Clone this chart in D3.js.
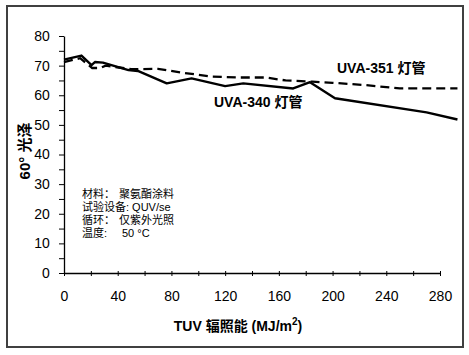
<!DOCTYPE html>
<html><head><meta charset="utf-8">
<script src="https://cdn.jsdelivr.net/npm/d3@7"></script>
<style>
body{margin:0;background:#fff;}
svg{display:block;font-family:"Liberation Sans",Arial,"Noto Sans CJK SC",sans-serif;}
</style></head><body>
<svg id="c" width="469" height="355"></svg>
<script>
// UVA-340 灯管 (solid)
const uva340X = [0, 13, 20.5, 23, 29, 48, 55, 76.5, 95, 120, 133.5, 170.7, 183.2, 201.8, 270, 293];
const uva340Y = [72, 73.4, 70.2, 71.2, 71, 68.5, 68.2, 64.0, 65.7, 63.1, 64.0, 62.3, 64.4, 59.0, 54.2, 51.8];
// UVA-351 灯管 (dashed)
const uva351X = [0, 12, 21, 27, 31, 50, 70, 90, 110, 130, 150, 165, 185, 200, 225, 250, 293];
const uva351Y = [71.2, 72.5, 69.2, 69.2, 70, 68.8, 68.9, 67.5, 66.3, 66, 66, 65, 64.6, 64.2, 63.4, 62.3, 62.3];
const xTickLabels = [0, 40, 80, 120, 160, 200, 240, 280];
const yTickLabels = [0, 10, 20, 30, 40, 50, 60, 70, 80];
const noteLines = [["材料：", "聚氨酯涂料"], ["试验设备: QUV/se", ""], ["循环：", "仅紫外光照"], ["温度:", "50 °C"]];

const svg = d3.select("#c");
svg.append("rect").attr("x", 7).attr("y", 6).attr("width", 456).attr("height", 341)
  .attr("fill", "#fff").attr("stroke", "#404040").attr("stroke-width", 2);

const x = d3.scaleLinear().domain([0, 280]).range([64, 440]);
const y = d3.scaleLinear().domain([0, 80]).range([273, 36]);

// x axis
const xa = svg.append("g").attr("transform", "translate(0,273)")
  .call(d3.axisBottom(x).tickValues(d3.range(0, 281, 20)).tickSize(5).tickSizeOuter(0)
    .tickFormat(d => xTickLabels.includes(d) ? d : ""));
xa.select(".domain").attr("stroke", "#000").attr("stroke-width", 1.3);
xa.selectAll(".tick line").attr("stroke", "#000").attr("y1", -2).attr("y2", 3);
xa.selectAll("text").attr("font-size", 14).attr("fill", "#000").attr("dy", "1.45em")
  .attr("font-family", "Liberation Sans, Arial, sans-serif");

// y axis
const ya = svg.append("g").attr("transform", "translate(64,0)")
  .call(d3.axisLeft(y).tickValues(d3.range(0, 81, 5)).tickSize(5).tickSizeOuter(0)
    .tickFormat(d => yTickLabels.includes(d) ? d : ""));
ya.select(".domain").attr("stroke", "#000").attr("stroke-width", 1.3);
ya.selectAll(".tick line").attr("stroke", "#000");
ya.selectAll("text").attr("font-size", 14).attr("fill", "#000").attr("dx", "-0.45em")
  .attr("font-family", "Liberation Sans, Arial, sans-serif");

const line = d3.line().x(d => x(d[0])).y(d => y(d[1]));
svg.append("path").datum(uva351X.map((v, i) => [v, uva351Y[i]]))
  .attr("d", line).attr("fill", "none").attr("stroke", "#000").attr("stroke-width", 2.3)
  .attr("stroke-dasharray", "9,5");
svg.append("path").datum(uva340X.map((v, i) => [v, uva340Y[i]]))
  .attr("d", line).attr("fill", "none").attr("stroke", "#000").attr("stroke-width", 2.4)
  .attr("stroke-linejoin", "round");

// series labels
svg.append("text").attr("x", 337).attr("y", 73).attr("font-size", 14).attr("font-weight", "bold")
  .text("UVA-351 灯管");
svg.append("text").attr("x", 214).attr("y", 107).attr("font-size", 14).attr("font-weight", "bold")
  .text("UVA-340 灯管");

// notes
noteLines.forEach((l, i) => {
  const t = svg.append("text").attr("x", 82).attr("y", 198 + i * 13).attr("font-size", 11).attr("fill", "#000");
  t.text(l[0]);
  if (l[1]) svg.append("text").attr("x", i === 3 ? 122 : 119).attr("y", 198 + i * 13)
    .attr("font-size", 11).attr("fill", "#000").text(l[1]);
});

// axis titles
const xt = svg.append("text").attr("x", 238).attr("y", 331).attr("text-anchor", "middle")
  .attr("font-size", 14).attr("font-weight", "bold");
xt.append("tspan").text("TUV 辐照能 (MJ/m");
xt.append("tspan").attr("font-size", 10).attr("dy", -6).text("2");
xt.append("tspan").attr("dy", 6).text(")");

svg.append("text").attr("transform", "translate(30,151) rotate(-90)").attr("text-anchor", "middle")
  .attr("font-size", 15).attr("font-weight", "bold").text("60° 光泽");
</script>
</body></html>
